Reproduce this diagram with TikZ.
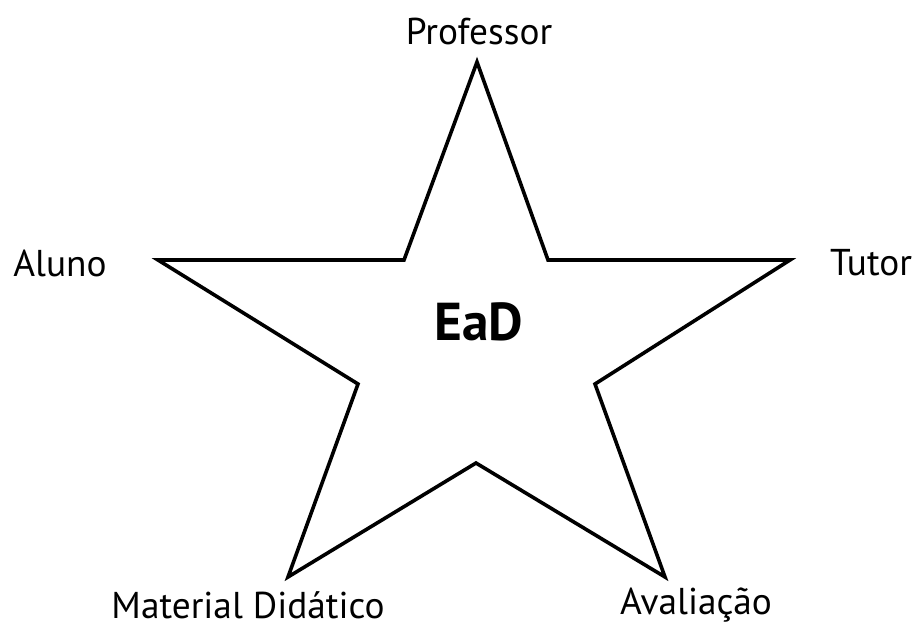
\documentclass[tikz,border=0pt]{standalone}
\usepackage{fontspec}
\setmainfont{PT Sans}
\usetikzlibrary{positioning}
\tikzset{
    label/.style={font=\fontsize{28}{31}\selectfont, inner sep=0pt},
    center/.style={font=\fontsize{40}{44}\selectfont\bfseries, inner sep=0pt},
    starline/.style={line width=2.7pt, line join=miter}
}

\begin{document}
\begin{tikzpicture}[x=0.75pt, y=-0.75pt]
  \useasboundingbox (0,0) rectangle (921,629);
  % pontas e cantos da estrela
  \coordinate (top) at (477,62);
  \coordinate (inR) at (548,260);
  \coordinate (right) at (790,260);
  \coordinate (inLR) at (595,384);
  \coordinate (botR) at (665,577);
  \coordinate (inB) at (476,463);
  \coordinate (botL) at (288,577);
  \coordinate (inLL) at (358,384);
  \coordinate (left) at (158,260);
  \coordinate (inL) at (404,260);
  \draw[starline] (top) -- (inR) -- (right) -- (inLR) -- (botR) -- (inB)
    -- (botL) -- (inLL) -- (left) -- (inL) -- cycle;
  \node[center] (ead) at (479,322) {EaD};
  \node[label] (prof) at (479,32) {Professor};
  \node[label] (aluno) at (60,263) {Aluno};
  \node[label] (tutor) at (871,263) {Tutor};
  \node[label] (mat) at (248,605) {Material Didático};
  \node[label] (aval) at (696,605) {Avaliação};
\end{tikzpicture}
\end{document}
